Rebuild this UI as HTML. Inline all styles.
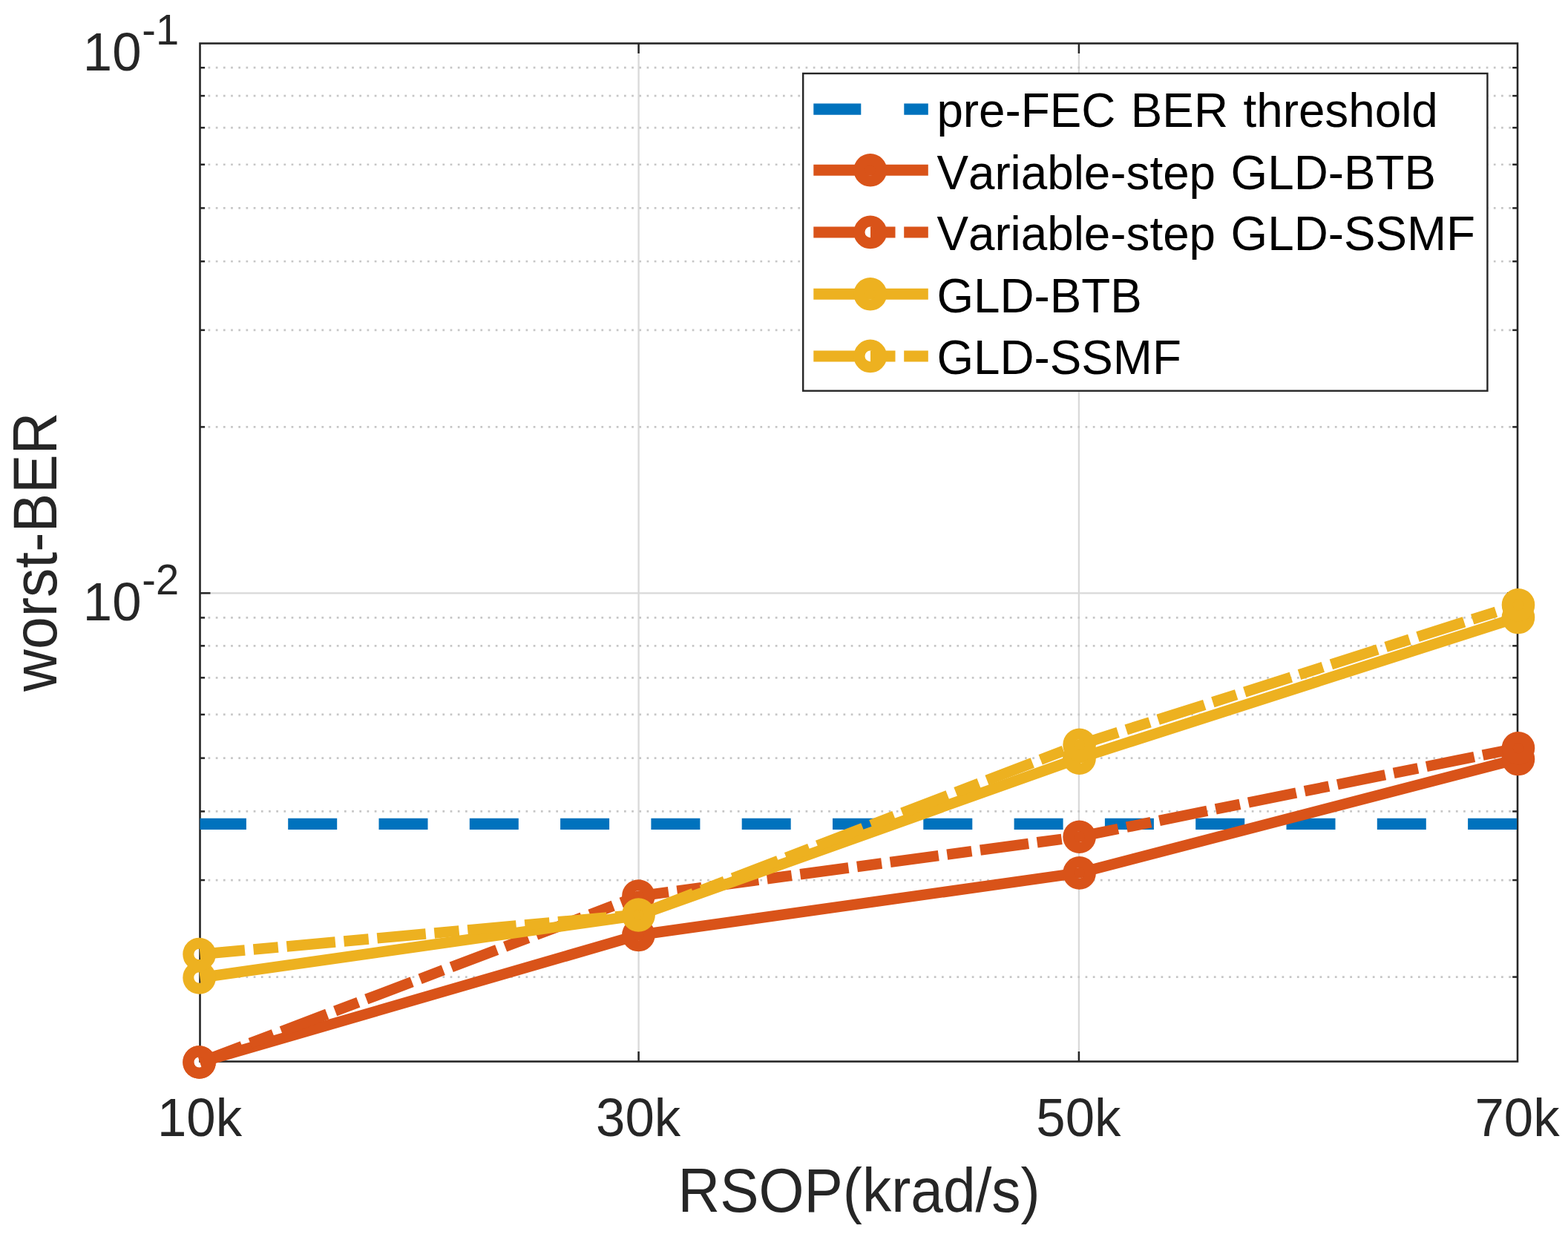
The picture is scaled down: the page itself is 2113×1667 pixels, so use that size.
<!DOCTYPE html>
<html lang="en"><head><meta charset="utf-8"><title>worst-BER vs RSOP</title>
<style>
html,body{margin:0;padding:0;background:#fff;}
body{width:2113px;height:1667px;overflow:hidden;}
svg{display:block;}
text{font-family:"Liberation Sans",sans-serif;font-kerning:none;}
.tk{font-size:72.6px;fill:#262626;}
.sup{font-size:57.5px;fill:#262626;}
.lab{font-size:83px;fill:#262626;}
.leg{font-size:65px;fill:#000;word-spacing:2.9px;}
</style></head><body>
<svg width="2113" height="1667" viewBox="0 0 2113 1667">
<rect x="0" y="0" width="2113" height="1667" fill="#fff"/>

<g id="grid" fill="none">
<line x1="860.6" y1="58.5" x2="860.6" y2="1430.5" stroke="#d9d9d9" stroke-width="2.3"/>
<line x1="1453.9" y1="58.5" x2="1453.9" y2="1430.5" stroke="#d9d9d9" stroke-width="2.3"/>
<line x1="269.5" y1="799.3" x2="2045.0" y2="799.3" stroke="#d9d9d9" stroke-width="2.3"/>
<line x1="280.55" y1="575.38" x2="2037.0" y2="575.38" stroke="#c6c6c6" stroke-width="2.7" stroke-dasharray="2.7 7.49"/>
<line x1="280.55" y1="444.86" x2="2037.0" y2="444.86" stroke="#c6c6c6" stroke-width="2.7" stroke-dasharray="2.7 7.49"/>
<line x1="280.55" y1="352.25" x2="2037.0" y2="352.25" stroke="#c6c6c6" stroke-width="2.7" stroke-dasharray="2.7 7.49"/>
<line x1="280.55" y1="280.42" x2="2037.0" y2="280.42" stroke="#c6c6c6" stroke-width="2.7" stroke-dasharray="2.7 7.49"/>
<line x1="280.55" y1="221.73" x2="2037.0" y2="221.73" stroke="#c6c6c6" stroke-width="2.7" stroke-dasharray="2.7 7.49"/>
<line x1="280.55" y1="172.11" x2="2037.0" y2="172.11" stroke="#c6c6c6" stroke-width="2.7" stroke-dasharray="2.7 7.49"/>
<line x1="280.55" y1="129.13" x2="2037.0" y2="129.13" stroke="#c6c6c6" stroke-width="2.7" stroke-dasharray="2.7 7.49"/>
<line x1="280.55" y1="91.22" x2="2037.0" y2="91.22" stroke="#c6c6c6" stroke-width="2.7" stroke-dasharray="2.7 7.49"/>
<line x1="280.55" y1="1316.58" x2="2037.0" y2="1316.58" stroke="#c6c6c6" stroke-width="2.7" stroke-dasharray="2.7 7.49"/>
<line x1="280.55" y1="1186.06" x2="2037.0" y2="1186.06" stroke="#c6c6c6" stroke-width="2.7" stroke-dasharray="2.7 7.49"/>
<line x1="280.55" y1="1093.45" x2="2037.0" y2="1093.45" stroke="#c6c6c6" stroke-width="2.7" stroke-dasharray="2.7 7.49"/>
<line x1="280.55" y1="1021.62" x2="2037.0" y2="1021.62" stroke="#c6c6c6" stroke-width="2.7" stroke-dasharray="2.7 7.49"/>
<line x1="280.55" y1="962.93" x2="2037.0" y2="962.93" stroke="#c6c6c6" stroke-width="2.7" stroke-dasharray="2.7 7.49"/>
<line x1="280.55" y1="913.31" x2="2037.0" y2="913.31" stroke="#c6c6c6" stroke-width="2.7" stroke-dasharray="2.7 7.49"/>
<line x1="280.55" y1="870.33" x2="2037.0" y2="870.33" stroke="#c6c6c6" stroke-width="2.7" stroke-dasharray="2.7 7.49"/>
<line x1="280.55" y1="832.42" x2="2037.0" y2="832.42" stroke="#c6c6c6" stroke-width="2.7" stroke-dasharray="2.7 7.49"/>
</g>
<g id="axes" stroke="#262626" fill="none">
<rect x="269.5" y="58.5" width="1775.5" height="1372.0" stroke-width="2.6"/>
<line x1="860.6" y1="1430.5" x2="860.6" y2="1417.0" stroke-width="2.5"/>
<line x1="860.6" y1="58.5" x2="860.6" y2="72.0" stroke-width="2.5"/>
<line x1="1453.9" y1="1430.5" x2="1453.9" y2="1417.0" stroke-width="2.5"/>
<line x1="1453.9" y1="58.5" x2="1453.9" y2="72.0" stroke-width="2.5"/>
<line x1="269.5" y1="799.3" x2="283.5" y2="799.3" stroke-width="2.5"/>
<line x1="2045.0" y1="799.3" x2="2031.0" y2="799.3" stroke-width="2.5"/>
<line x1="269.5" y1="575.38" x2="276.1" y2="575.38" stroke-width="2.5"/>
<line x1="2045.0" y1="575.38" x2="2038.2" y2="575.38" stroke-width="2.5"/>
<line x1="269.5" y1="444.86" x2="276.1" y2="444.86" stroke-width="2.5"/>
<line x1="2045.0" y1="444.86" x2="2038.2" y2="444.86" stroke-width="2.5"/>
<line x1="269.5" y1="352.25" x2="276.1" y2="352.25" stroke-width="2.5"/>
<line x1="2045.0" y1="352.25" x2="2038.2" y2="352.25" stroke-width="2.5"/>
<line x1="269.5" y1="280.42" x2="276.1" y2="280.42" stroke-width="2.5"/>
<line x1="2045.0" y1="280.42" x2="2038.2" y2="280.42" stroke-width="2.5"/>
<line x1="269.5" y1="221.73" x2="276.1" y2="221.73" stroke-width="2.5"/>
<line x1="2045.0" y1="221.73" x2="2038.2" y2="221.73" stroke-width="2.5"/>
<line x1="269.5" y1="172.11" x2="276.1" y2="172.11" stroke-width="2.5"/>
<line x1="2045.0" y1="172.11" x2="2038.2" y2="172.11" stroke-width="2.5"/>
<line x1="269.5" y1="129.13" x2="276.1" y2="129.13" stroke-width="2.5"/>
<line x1="2045.0" y1="129.13" x2="2038.2" y2="129.13" stroke-width="2.5"/>
<line x1="269.5" y1="91.22" x2="276.1" y2="91.22" stroke-width="2.5"/>
<line x1="2045.0" y1="91.22" x2="2038.2" y2="91.22" stroke-width="2.5"/>
<line x1="269.5" y1="1316.58" x2="276.1" y2="1316.58" stroke-width="2.5"/>
<line x1="2045.0" y1="1316.58" x2="2038.2" y2="1316.58" stroke-width="2.5"/>
<line x1="269.5" y1="1186.06" x2="276.1" y2="1186.06" stroke-width="2.5"/>
<line x1="2045.0" y1="1186.06" x2="2038.2" y2="1186.06" stroke-width="2.5"/>
<line x1="269.5" y1="1093.45" x2="276.1" y2="1093.45" stroke-width="2.5"/>
<line x1="2045.0" y1="1093.45" x2="2038.2" y2="1093.45" stroke-width="2.5"/>
<line x1="269.5" y1="1021.62" x2="276.1" y2="1021.62" stroke-width="2.5"/>
<line x1="2045.0" y1="1021.62" x2="2038.2" y2="1021.62" stroke-width="2.5"/>
<line x1="269.5" y1="962.93" x2="276.1" y2="962.93" stroke-width="2.5"/>
<line x1="2045.0" y1="962.93" x2="2038.2" y2="962.93" stroke-width="2.5"/>
<line x1="269.5" y1="913.31" x2="276.1" y2="913.31" stroke-width="2.5"/>
<line x1="2045.0" y1="913.31" x2="2038.2" y2="913.31" stroke-width="2.5"/>
<line x1="269.5" y1="870.33" x2="276.1" y2="870.33" stroke-width="2.5"/>
<line x1="2045.0" y1="870.33" x2="2038.2" y2="870.33" stroke-width="2.5"/>
<line x1="269.5" y1="832.42" x2="276.1" y2="832.42" stroke-width="2.5"/>
<line x1="2045.0" y1="832.42" x2="2038.2" y2="832.42" stroke-width="2.5"/>
</g>
<g id="data" fill="none" stroke-linejoin="round">
<line x1="269.5" y1="1110.3" x2="2045.0" y2="1110.3" stroke="#0072bd" stroke-width="15.2" stroke-dasharray="66 56.3" stroke-dashoffset="3.6"/>
<polyline points="269.5,1431.5 860.6,1260.0 1453.9,1176.4 2045.0,1023.0" stroke="#d95319" stroke-width="14.5"/>
<circle cx="268.6" cy="1431.5" r="14.8" stroke="#d95319" stroke-width="15.0"/>
<circle cx="860.4" cy="1260.0" r="14.8" stroke="#d95319" stroke-width="15.0"/>
<circle cx="1454.6" cy="1176.4" r="14.8" stroke="#d95319" stroke-width="15.0"/>
<circle cx="2046.0" cy="1023.0" r="14.8" stroke="#d95319" stroke-width="15.0" fill="#d95319"/>
<polyline points="269.5,1431.5 860.6,1207.6 1453.9,1127.7 2045.0,1008.2" stroke="#d95319" stroke-width="14.5" stroke-dasharray="65.7 11.65 33.4 11.65" stroke-dashoffset="5"/>
<circle cx="268.6" cy="1431.5" r="14.8" stroke="#d95319" stroke-width="15.0"/>
<circle cx="860.4" cy="1207.6" r="14.8" stroke="#d95319" stroke-width="15.0"/>
<circle cx="1454.6" cy="1127.7" r="14.8" stroke="#d95319" stroke-width="15.0"/>
<circle cx="2046.0" cy="1008.2" r="14.8" stroke="#d95319" stroke-width="15.0" fill="#d95319"/>
<polyline points="269.5,1317.5 860.6,1233.5 1453.9,1021.8 2045.0,832.0" stroke="#edb120" stroke-width="14.5"/>
<circle cx="268.6" cy="1317.5" r="14.8" stroke="#edb120" stroke-width="15.0"/>
<circle cx="860.4" cy="1233.5" r="14.8" stroke="#edb120" stroke-width="15.0"/>
<circle cx="1454.6" cy="1021.8" r="14.8" stroke="#edb120" stroke-width="15.0"/>
<circle cx="2046.0" cy="832.0" r="14.8" stroke="#edb120" stroke-width="15.0" fill="#edb120"/>
<polyline points="269.5,1286.0 860.6,1232.5 1453.9,1003.8 2045.0,815.3" stroke="#edb120" stroke-width="14.5" stroke-dasharray="65.7 11.65 33.4 11.65" stroke-dashoffset="5"/>
<circle cx="268.6" cy="1286.0" r="14.8" stroke="#edb120" stroke-width="15.0"/>
<circle cx="860.4" cy="1232.5" r="14.8" stroke="#edb120" stroke-width="15.0"/>
<circle cx="1454.6" cy="1003.8" r="14.8" stroke="#edb120" stroke-width="15.0"/>
<circle cx="2046.0" cy="815.3" r="14.8" stroke="#edb120" stroke-width="15.0" fill="#edb120"/>
</g>
<g id="legend" fill="none">
<rect x="1082.2" y="99.0" width="922.2" height="427.70000000000005" fill="#fff" stroke="#262626" stroke-width="2.4"/>
<line x1="1096.3" y1="147.2" x2="1250.8" y2="147.2" stroke="#0072bd" stroke-width="15.2" stroke-dasharray="64 58"/>
<line x1="1096.3" y1="229.3" x2="1250.8" y2="229.3" stroke="#d95319" stroke-width="15"/>
<circle cx="1172.8" cy="229.3" r="14.8" stroke="#d95319" stroke-width="15.0"/>
<line x1="1096.3" y1="312.9" x2="1250.8" y2="312.9" stroke="#d95319" stroke-width="15" stroke-dasharray="65 11.7 33.5 11.7"/>
<circle cx="1172.8" cy="312.9" r="14.8" stroke="#d95319" stroke-width="15.0"/>
<line x1="1096.3" y1="396.3" x2="1250.8" y2="396.3" stroke="#edb120" stroke-width="15"/>
<circle cx="1172.8" cy="396.3" r="14.8" stroke="#edb120" stroke-width="15.0"/>
<line x1="1096.3" y1="479.9" x2="1250.8" y2="479.9" stroke="#edb120" stroke-width="15" stroke-dasharray="65 11.7 33.5 11.7"/>
<circle cx="1172.8" cy="479.9" r="14.8" stroke="#edb120" stroke-width="15.0"/>
</g>
<g id="legendtext">
<text class="leg" transform="translate(1262.4 171.4) scale(0.981 1)" text-anchor="start">pre-FEC BER threshold</text>
<text class="leg" transform="translate(1262.4 255.0) scale(0.981 1)" text-anchor="start">Variable-step GLD-BTB</text>
<text class="leg" transform="translate(1262.4 337.0) scale(0.981 1)" text-anchor="start">Variable-step GLD-SSMF</text>
<text class="leg" transform="translate(1262.4 420.5) scale(0.981 1)" text-anchor="start">GLD-BTB</text>
<text class="leg" transform="translate(1262.4 504.1) scale(0.981 1)" text-anchor="start">GLD-SSMF</text>
</g>
<g id="ticklabels">
<text class="tk" transform="translate(269.0 1531.2) scale(0.975 1)" text-anchor="middle">10k</text>
<text class="tk" transform="translate(860.1 1531.2) scale(0.975 1)" text-anchor="middle">30k</text>
<text class="tk" transform="translate(1453.4 1531.2) scale(0.975 1)" text-anchor="middle">50k</text>
<text class="tk" transform="translate(2044.5 1531.2) scale(0.975 1)" text-anchor="middle">70k</text>
<text class="tk" transform="translate(111.8 94.9) scale(0.975 1)" text-anchor="start">10<tspan class="sup" dx="0.8" dy="-35.2">-1</tspan></text>
<text class="tk" transform="translate(111.8 835.6999999999999) scale(0.975 1)" text-anchor="start">10<tspan class="sup" dx="0.8" dy="-35.2">-2</tspan></text>
</g>
<text class="lab" transform="translate(1157.6 1632.8) scale(0.945 1)" text-anchor="middle">RSOP(krad/s)</text>
<text class="lab" transform="translate(76.2 743.8) rotate(-90) scale(0.9488 1)" text-anchor="middle">worst-BER</text>
</svg></body></html>
